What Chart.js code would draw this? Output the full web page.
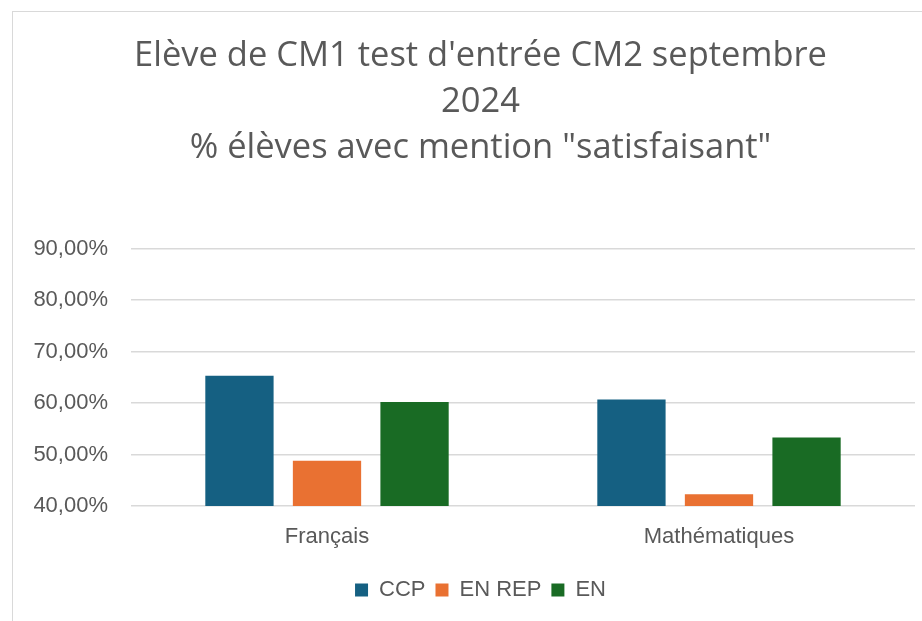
<!DOCTYPE html>
<html>
<head>
<meta charset="utf-8">
<script src="https://cdn.jsdelivr.net/npm/chart.js@4.4.1/dist/chart.umd.min.js"></script>
<style>
    html, body { margin: 0; padding: 0; background: #fff; overflow: hidden; }
    #frame {
        position: absolute; left: 12px; top: 11px;
        width: 940px; height: 640px;
        border: 1.5px solid #d9d9d9; background: #fff;
    }
    #chart { position: absolute; left: 0; top: 0; }
</style>
</head>
<body>
<div id="frame"><canvas id="chart" width="935" height="609"></canvas></div>
<script>
// data
const categories = ['Français', 'Mathématiques'];
const ccp = [65.3, 60.7];
const enRep = [48.8, 42.3];
const en = [60.2, 53.3];
const yMin = 40, yMax = 90, yStep = 10;

const textColor = '#595959';
const gridColor = '#d9d9d9';

// tick label like "60,00%"
function pct(value) {
    return value.toFixed(2).replace('.', ',') + '%';
}

const ctx = document.querySelector('#chart').getContext('2d');
new Chart(ctx, {
    type: 'bar',
    data: {
        labels: categories,
        datasets: [
            { label: 'CCP', data: ccp, backgroundColor: '#156082' },
            { label: 'EN REP', data: enRep, backgroundColor: '#e97132' },
            { label: 'EN', data: en, backgroundColor: '#196b24' }
        ]
    },
    options: {
        responsive: false,
        animation: false,
        categoryPercentage: 0.67,
        barPercentage: 0.78,
        layout: { padding: { left: 0, right: 0, top: 0, bottom: 10 } },
        plugins: {
            title: {
                display: true,
                text: ['Elève de CM1 test d\'entrée CM2 septembre', '2024', '% élèves avec mention "satisfaisant"'],
                color: textColor,
                font: { family: 'Open Sans', size: 34.5, weight: 'normal', lineHeight: 1.33 },
                padding: { top: 21, bottom: 78 }
            },
            legend: {
                position: 'bottom',
                labels: {
                    color: textColor,
                    boxWidth: 13,
                    boxHeight: 13,
                    padding: 10,
                    font: { family: 'Liberation Sans', size: 22 }
                }
            },
            tooltip: { enabled: false }
        },
        scales: {
            x: {
                grid: { display: false },
                border: { display: false },
                ticks: {
                    color: textColor,
                    padding: 10,
                    font: { family: 'Liberation Sans', size: 22 }
                },
                afterFit: scale => { scale.height = 63; }
            },
            y: {
                min: yMin,
                max: yMax,
                grid: { color: gridColor, lineWidth: 1.5, drawTicks: false },
                border: { display: false },
                ticks: {
                    stepSize: yStep,
                    color: textColor,
                    padding: 23,
                    font: { family: 'Liberation Sans', size: 22 },
                    callback: value => pct(value)
                },
                afterFit: scale => { scale.width = 118; }
            },
            // empty right axis, only keeps the plot off the right edge
            yRight: {
                position: 'right',
                grid: { display: false },
                border: { display: false },
                ticks: { display: false },
                afterFit: scale => { scale.width = 33; }
            }
        }
    }
});
</script>
</body>
</html>
